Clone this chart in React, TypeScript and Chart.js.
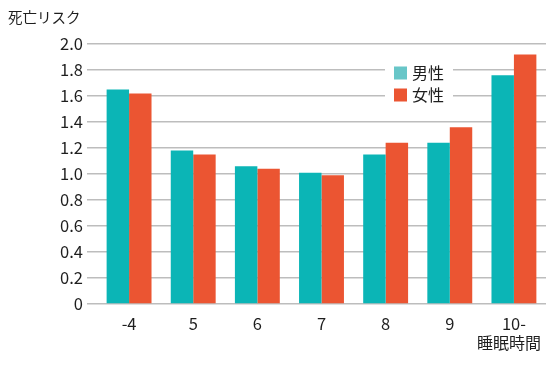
import React, { useEffect, useRef } from "react";
import { Chart, registerables } from "chart.js";

Chart.register(...registerables);

const categories = ["-4", "5", "6", "7", "8", "9", "10-"];
const maleValues = [1.65, 1.18, 1.06, 1.01, 1.15, 1.24, 1.76];
const femaleValues = [1.62, 1.15, 1.04, 0.99, 1.24, 1.36, 1.92];
const seriesLabels = ["男性", "女性"];
const yAxisTitle = "死亡リスク";
const xAxisTitle = "睡眠時間";

const FONT = "'Noto Sans CJK JP', 'Noto Sans', sans-serif";
const TEAL = "#0BB5B6";
const TEAL_LEGEND = "#68C6C8";
const RED = "#EB5532";
const GRID = "#BDBDBD";
const TEXT = "#1e1e1e";

const annotations = {
  id: "annotations",
  afterDraw(chart: any) {
    const ctx = chart.ctx;
    ctx.save();
    // axis titles
    ctx.fillStyle = TEXT;
    ctx.textBaseline = "middle";
    ctx.font = `14.5px ${FONT}`;
    ctx.textAlign = "left";
    ctx.fillText(yAxisTitle, 8, 17);
    ctx.font = `16px ${FONT}`;
    ctx.textAlign = "right";
    ctx.fillText(xAxisTitle, 541, 343);
    // legend
    ctx.fillStyle = "#ffffff";
    ctx.fillRect(385, 58, 68, 48);
    const colors = [TEAL_LEGEND, RED];
    chart.data.datasets.forEach((ds: any, i: number) => {
      const cy = 73 + i * 22;
      ctx.fillStyle = colors[i];
      ctx.fillRect(394, cy - 6.5, 13, 13);
      ctx.fillStyle = TEXT;
      ctx.font = `16px ${FONT}`;
      ctx.textAlign = "left";
      ctx.textBaseline = "middle";
      ctx.fillText(ds.label, 412, cy);
    });
    ctx.restore();
  },
};

export default function App() {
  const ref = useRef<HTMLCanvasElement | null>(null);
  useEffect(() => {
    if (!ref.current) return;
    const chart = new Chart(ref.current, {
      type: "bar",
      data: {
        labels: categories,
        datasets: [
          {
            label: seriesLabels[0],
            data: maleValues,
            backgroundColor: TEAL,
            categoryPercentage: 0.7,
            barPercentage: 1,
          },
          {
            label: seriesLabels[1],
            data: femaleValues,
            backgroundColor: RED,
            categoryPercentage: 0.7,
            barPercentage: 1,
          },
        ],
      },
      options: {
        animation: false,
        responsive: false,
        maintainAspectRatio: false,
        layout: { padding: { top: 44, right: 4, left: 0, bottom: 0 } },
        plugins: {
          legend: { display: false },
          tooltip: { enabled: false },
          title: { display: false },
        },
        scales: {
          x: {
            grid: { display: false, drawTicks: false },
            border: { display: false },
            ticks: {
              color: TEXT,
              font: { family: FONT, size: 16.5 },
              padding: 10,
              maxRotation: 0,
            },
            afterFit: (s: any) => {
              s.height = 66;
            },
          },
          y: {
            min: 0,
            max: 2.0,
            grid: {
              color: GRID,
              lineWidth: 1.5,
              drawTicks: true,
              tickLength: 10,
            },
            border: { display: false },
            ticks: {
              stepSize: 0.2,
              color: TEXT,
              font: { family: FONT, size: 16.5 },
              padding: 4,
              callback: (v: any) => (Number(v) === 0 ? "0" : Number(v).toFixed(1)),
            },
            afterFit: (s: any) => {
              s.width = 97;
            },
          },
        },
      },
      plugins: [annotations],
    });
    return () => chart.destroy();
  }, []);
  return (
    <div style={{ position: "absolute", left: 0, top: 0, width: 550, height: 370, background: "#fff" }}>
      <canvas ref={ref} width={550} height={370} style={{ display: "block" }} />
    </div>
  );
}
